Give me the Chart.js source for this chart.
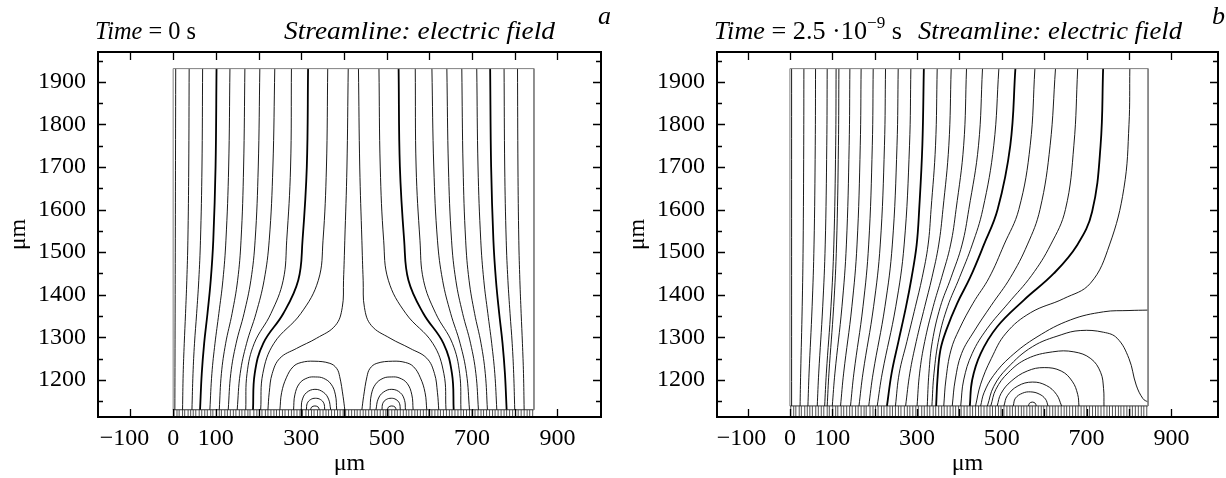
<!DOCTYPE html>
<html>
<head>
<meta charset="utf-8">
<script src="https://cdn.jsdelivr.net/npm/chart.js@4.4.1/dist/chart.umd.min.js"></script>
<style>
  html, body { margin: 0; padding: 0; background: #fff; }
  #wrap { position: relative; width: 1226px; height: 478px; }
  canvas { position: absolute; top: 0; }
  #chartA { left: 0; }
  #chartB { left: 613px; }
</style>
</head>
<body>
<div id="wrap">
  <canvas id="chartA" width="613" height="478"></canvas>
  <canvas id="chartB" width="613" height="478"></canvas>
</div>
<script>
// axis ticks
const xTicks = [-100, 0, 100, 200, 300, 400, 500, 600, 700, 800, 900];
const xLabeled = [-100, 0, 100, 300, 500, 700, 900];
const yTicks = [1150, 1200, 1250, 1300, 1350, 1400, 1450, 1500, 1550, 1600, 1650, 1700, 1750, 1800, 1850, 1900, 1950];
const yLabeled = [1200, 1300, 1400, 1500, 1600, 1700, 1800, 1900];

// domain (um)
const domainRight = 845;
const domainTop = 1931;
const bandTopA = 1130;
const bandTopB = 1139;

// mesh marks along the bottom electrode
const meshX = [2, 9, 14, 22, 27, 35, 41, 47, 53, 61, 67, 74, 80, 88, 93, 101, 108, 113, 121, 127, 134, 141, 147, 155, 161, 168, 175, 180, 189, 196, 202, 208, 216, 222, 229, 236, 242, 249, 256, 262, 270, 277, 283, 290, 297, 303, 311, 317, 324, 330, 338, 344, 351, 358, 364, 371, 378, 385, 391, 398, 404, 411, 418, 425, 431, 438, 445, 451, 458, 465, 472, 478, 485, 492, 498, 505, 512, 519, 525, 532, 539, 546, 552, 559, 566, 572, 579, 586, 593, 599, 606, 613, 620, 626, 633, 640, 647, 653, 660, 667, 674, 680, 687, 694, 700, 707, 714, 721, 727, 734, 741, 748, 754, 761, 768, 775, 781, 788, 795, 802, 808, 815, 822, 829, 835, 842];

// panel a, t = 0: streamlines from the top electrode, left to right
const linesA = [
    [[6, 1931], [5, 1500], [4, 1130]],
    [[37.5, 1931], [36.5, 1700], [34.5, 1528], [32, 1434], [29, 1356], [26, 1286], [23.5, 1215], [22, 1130]],
    [[69, 1931], [67.5, 1700], [64, 1528], [60, 1434], [55, 1356], [50, 1286], [46.5, 1215], [44, 1130]],
    [[101.6, 1931], [99.3, 1700], [94, 1528], [88, 1434], [80.4, 1356], [72.6, 1286], [67, 1215], [63, 1130]],
    [[133, 1931], [130, 1700], [123.6, 1528], [116.5, 1434], [107, 1356], [98, 1286], [90.7, 1215], [86, 1130]],
    [[168, 1931], [165, 1700], [159, 1528], [151, 1434], [138, 1356], [123, 1286], [113, 1215], [108, 1130]],
    [[203, 1931], [199.3, 1700], [192, 1528], [182, 1434], [166, 1356], [147.5, 1286], [135, 1215], [129, 1130]],
    [[238, 1931], [233.6, 1700], [225, 1528], [213, 1434], [194, 1356], [172, 1286], [157, 1215], [150, 1130]],
    [[277, 1931], [275, 1700], [266, 1528], [257.7, 1434], [229, 1356], [190, 1286], [173, 1215], [170, 1130]],
    [[316, 1931], [313, 1700], [303, 1528], [293, 1434], [258, 1356], [211, 1286], [191, 1215], [187, 1130]],
    [[362, 1931], [359, 1700], [351, 1528], [340, 1434], [299, 1356], [236, 1286], [210, 1215], [205, 1130]],
    [[410, 1931], [407, 1700], [402, 1528], [399, 1434], [396, 1370], [380, 1328], [336, 1298], [289, 1274], [250, 1251], [232, 1215], [225, 1170], [222, 1130]],
    [[434, 1931], [437, 1700], [442, 1528], [445, 1434], [448, 1370], [464, 1328], [508, 1298], [555, 1274], [594, 1251], [612, 1215], [619, 1170], [622, 1130]],
    [[482, 1931], [485, 1700], [493, 1528], [504, 1434], [545, 1356], [608, 1286], [634, 1215], [639, 1130]],
    [[528, 1931], [531, 1700], [541, 1528], [551, 1434], [586, 1356], [633, 1286], [653, 1215], [657, 1130]],
    [[567, 1931], [569, 1700], [578, 1528], [586.3, 1434], [615, 1356], [654, 1286], [671, 1215], [674, 1130]],
    [[606, 1931], [610.4, 1700], [619, 1528], [631, 1434], [650, 1356], [672, 1286], [687, 1215], [694, 1130]],
    [[641, 1931], [644.7, 1700], [652, 1528], [662, 1434], [678, 1356], [696.5, 1286], [709, 1215], [715, 1130]],
    [[676, 1931], [679, 1700], [685, 1528], [693, 1434], [706, 1356], [721, 1286], [731, 1215], [736, 1130]],
    [[711, 1931], [714, 1700], [720.4, 1528], [727.5, 1434], [737, 1356], [746, 1286], [753.3, 1215], [758, 1130]],
    [[742.4, 1931], [744.7, 1700], [750, 1528], [756, 1434], [763.6, 1356], [771.4, 1286], [777, 1215], [781, 1130]],
    [[775, 1931], [776.5, 1700], [780, 1528], [784, 1434], [789, 1356], [794, 1286], [797.5, 1215], [800, 1130]],
    [[806.5, 1931], [807.5, 1700], [809.5, 1528], [812, 1434], [815, 1356], [818, 1286], [820.5, 1215], [822, 1130]]
];
const thickA = [3, 9, 14, 20];

// panel a: closed loops over the two charges
const loopsA = [
    [[322, 1130], [324, 1136], [332, 1139], [340, 1136], [342, 1130]],
    [[312, 1130], [314, 1145], [322, 1154], [333, 1157], [345, 1154], [353, 1145], [355, 1130]],
    [[300, 1130], [302, 1152], [312, 1170], [332, 1178], [352, 1171], [364, 1155], [369, 1130]],
    [[282, 1130], [285, 1165], [296, 1192], [315, 1205], [333, 1207], [352, 1204], [370, 1190], [380, 1165], [383, 1130]],
    [[250, 1130], [254, 1170], [265, 1205], [281, 1231], [300, 1241], [330, 1244], [367, 1239], [383, 1227], [390, 1208], [398, 1161], [402, 1130]],
    [[502, 1130], [504, 1136], [512, 1139], [520, 1136], [522, 1130]],
    [[489, 1130], [491, 1145], [499, 1154], [511, 1157], [522, 1154], [530, 1145], [532, 1130]],
    [[475, 1130], [480, 1155], [492, 1171], [512, 1178], [532, 1170], [542, 1152], [544, 1130]],
    [[461, 1130], [464, 1165], [474, 1190], [492, 1204], [511, 1207], [529, 1205], [548, 1192], [559, 1165], [562, 1130]],
    [[442, 1130], [446, 1161], [454, 1208], [461, 1227], [477, 1239], [514, 1244], [544, 1241], [563, 1231], [579, 1205], [590, 1170], [594, 1130]]
];

// panel b, t = 2.5e-9 s: streamlines from the top electrode, left to right
const linesB = [
    [[4, 1931], [4, 1139]],
    [[33, 1931], [32.6, 1751], [31.2, 1517], [29, 1372], [25.4, 1216], [24, 1139]],
    [[60.5, 1931], [59.8, 1751], [56.9, 1517], [52.4, 1372], [45.2, 1216], [42.5, 1139]],
    [[88, 1931], [87, 1751], [83.3, 1517], [77.4, 1372], [68, 1216], [64.5, 1139]],
    [[109, 1931], [108, 1751], [103.6, 1517], [96.9, 1372], [86, 1216], [82, 1139]],
    [[115.6, 1931], [114.5, 1751], [110, 1517], [103.2, 1372], [92.1, 1216], [88, 1139]],
    [[141.5, 1931], [139.8, 1751], [133.2, 1517], [122.8, 1372], [106.2, 1216], [100, 1139]],
    [[168, 1931], [166, 1751], [158.3, 1517], [146.2, 1372], [126.8, 1216], [119.5, 1139]],
    [[196.5, 1931], [194.4, 1751], [185.8, 1517], [172.4, 1372], [151, 1216], [143, 1139]],
    [[225.6, 1931], [223.1, 1751], [213.1, 1517], [197.4, 1372], [172.4, 1216], [163, 1139]],
    [[255.5, 1931], [252.7, 1751], [241.6, 1517], [224.2, 1372], [196.4, 1216], [186, 1139]],
    [[285.4, 1931], [282.2, 1751], [269.5, 1517], [249.7, 1372], [217.9, 1216], [206, 1139]],
    [[316, 1931], [312.5, 1751], [305, 1600], [299, 1517], [287, 1440], [274, 1372], [256, 1290], [240, 1216], [229, 1139]],
    [[347.5, 1931], [343.6, 1751], [333, 1600], [326, 1517], [312, 1440], [296, 1372], [276, 1290], [258, 1216], [249, 1139]],
    [[380.5, 1931], [375, 1751], [361, 1600], [351, 1517], [335, 1440], [318, 1372], [298, 1290], [283, 1216], [273, 1139]],
    [[416.7, 1931], [410, 1751], [392, 1600], [379, 1517], [358, 1440], [338, 1372], [318, 1290], [306, 1216], [300, 1139]],
    [[454.4, 1931], [445, 1751], [422, 1600], [406, 1517], [380, 1440], [355, 1372], [336, 1290], [328, 1216], [324, 1139]],
    [[493, 1931], [481, 1751], [455, 1600], [430, 1517], [400, 1440], [372, 1372], [352, 1300], [340, 1216], [335, 1139]],
    [[532, 1931], [520, 1751], [490, 1600], [457.5, 1517], [425, 1440], [394.7, 1380], [370, 1320], [355, 1270], [348, 1200], [345, 1139]],
    [[578, 1931], [567, 1751], [540, 1600], [505, 1517], [470, 1440], [432, 1380], [400, 1320], [380, 1270], [368, 1200], [363, 1139]],
    [[626.6, 1931], [614, 1751], [590, 1600], [560, 1517], [520, 1440], [475, 1375], [435, 1315], [405, 1262], [390, 1200], [383, 1139]],
    [[679, 1931], [670, 1751], [650, 1600], [615, 1517], [570, 1445], [515, 1380], [465, 1320], [430, 1262], [410, 1200], [403, 1139]],
    [[739, 1931], [733, 1751], [713, 1595], [678, 1517], [622.6, 1450], [552, 1387.5], [489, 1325], [450, 1262], [430, 1200], [424.5, 1139]],
    [[802, 1931], [800, 1800], [788, 1650], [754, 1517], [709, 1427], [646, 1391], [568, 1358], [510, 1310], [475, 1250], [450, 1190], [438, 1139]],
    [[845, 1364], [800, 1363], [740, 1360], [662, 1341], [583, 1301], [520, 1254], [480, 1210], [458, 1170], [450, 1139]]
];
const thickB = [12, 18, 22];

// panel b: loops around the remaining charge, outermost first
const loopsB = [
    [[466, 1139], [481, 1185], [513, 1228], [572, 1278], [640, 1306], [685, 1316], [740, 1312], [772, 1298], [800, 1250], [817, 1188], [833, 1156], [845, 1148]],
    [[474, 1139], [486, 1178], [515, 1217], [560, 1250], [620, 1266], [670, 1266], [710, 1250], [733, 1218], [740, 1180], [741, 1139]],
    [[489, 1139], [498, 1168], [522, 1197], [560, 1221], [600, 1229], [640, 1221], [666, 1197], [679, 1166], [682, 1139]],
    [[505, 1139], [513, 1163], [538, 1186], [572, 1195], [605, 1187], [629, 1166], [641, 1139]],
    [[527, 1139], [532, 1157], [549, 1169], [568, 1172], [588, 1167], [603, 1155], [609, 1139]],
    [[563, 1139], [565, 1145], [572, 1148], [579, 1145], [581, 1139]]
];

const serif = '"Liberation Serif", "Times New Roman", serif';

function toXY(pts) {
    return pts.map(([x, y]) => ({ x, y }));
}

function lineSet(pts, width, color) {
    return {
        data: toXY(pts),
        showLine: true,
        borderColor: color || '#000',
        borderWidth: width,
        pointRadius: 0,
        tension: 0.4,
        fill: false
    };
}

function buildDatasets(lines, thick, loops, bandTop, meshRadius) {
    const sets = [];
    const box = lineSet([[0, bandTop], [0, domainTop], [domainRight, domainTop], [domainRight, bandTop]], 1, '#808080');
    box.tension = 0;
    sets.push(box);
    lines.forEach((pts, i) => sets.push(lineSet(pts, thick.includes(i) ? 1.8 : 0.9)));
    loops.forEach(pts => sets.push(lineSet(pts, 0.9)));
    const band = lineSet([[0, bandTop], [domainRight, bandTop]], 1, '#333');
    band.tension = 0;
    sets.push(band);
    sets.push({
        data: meshX.map(x => ({ x, y: (bandTop + 1113) / 2 })),
        showLine: false,
        pointStyle: 'line',
        rotation: 90,
        pointRadius: meshRadius,
        borderColor: '#555',
        borderWidth: 1
    });
    return sets;
}

// draws a run of text pieces squeezed or stretched to span [x0, x1]
function fitText(ctx, parts, x0, x1, baseline) {
    let w = 0;
    parts.forEach(p => { ctx.font = p.font; w += ctx.measureText(p.text).width; });
    ctx.save();
    ctx.translate(x0, baseline);
    ctx.scale((x1 - x0) / w, 1);
    let cx = 0;
    parts.forEach(p => {
        ctx.font = p.font;
        ctx.fillText(p.text, cx, p.dy || 0);
        cx += ctx.measureText(p.text).width;
    });
    ctx.restore();
}

const framePlugin = {
    id: 'frame',
    afterDraw(chart, args, opts) {
        const { ctx, chartArea: a, scales: { x, y } } = chart;
        ctx.save();
        ctx.strokeStyle = '#000';
        ctx.lineWidth = 1.3;
        ctx.beginPath();
        xTicks.forEach(v => {
            const px = Math.round(x.getPixelForValue(v)) + 0.5;
            ctx.moveTo(px, a.bottom); ctx.lineTo(px, a.bottom - 8);
            ctx.moveTo(px, a.top); ctx.lineTo(px, a.top + 8);
        });
        yTicks.forEach(v => {
            const py = Math.round(y.getPixelForValue(v)) + 0.5;
            const len = yLabeled.includes(v) ? 8 : 5;
            ctx.moveTo(a.left, py); ctx.lineTo(a.left + len, py);
            ctx.moveTo(a.right, py); ctx.lineTo(a.right - len, py);
        });
        ctx.stroke();
        ctx.lineWidth = 2;
        ctx.strokeRect(a.left, a.top, a.width, a.height);

        ctx.fillStyle = '#000';
        ctx.textBaseline = 'alphabetic';
        ctx.textAlign = 'left';
        fitText(ctx, opts.time, opts.timeSpan[0], opts.timeSpan[1], opts.baseline);
        fitText(ctx, [{ text: 'Streamline: electric field', font: `italic 26px ${serif}` }],
            opts.streamSpan[0], opts.streamSpan[1], opts.baseline);
        ctx.font = `italic 26px ${serif}`;
        ctx.fillText(opts.letter, opts.letterX, 24);
        ctx.restore();
    }
};

// negative labels keep their digits centred on the tick, the minus hangs left
function xLabel(v) {
    if (!xLabeled.includes(v)) return '';
    return v < 0 ? '\u2212' + Math.abs(v) + '\u2002' : String(v);
}

function makeChart(id, datasets, xMin, xMax, yAxisWidth, rightPad, yTitlePad, frameOpts) {
    return new Chart(document.getElementById(id), {
        type: 'scatter',
        data: { datasets },
        options: {
            responsive: false,
            animation: false,
            events: [],
            layout: { padding: { top: 52, right: rightPad, left: 0, bottom: 0 } },
            plugins: {
                legend: { display: false },
                tooltip: { enabled: false },
                frame: frameOpts
            },
            scales: {
                x: {
                    type: 'linear',
                    min: xMin,
                    max: xMax,
                    afterBuildTicks: s => { s.ticks = xTicks.map(v => ({ value: v })); },
                    afterFit: s => { s.height = 61; },
                    grid: { display: false, drawTicks: false },
                    border: { display: false },
                    ticks: {
                        padding: 7,
                        color: '#000',
                        font: { family: serif, size: 24 },
                        maxRotation: 0,
                        autoSkip: false,
                        callback: xLabel
                    },
                    title: { display: true, text: 'μm', color: '#000', font: { family: serif, size: 24 }, padding: { top: 0, bottom: 0 } }
                },
                y: {
                    type: 'linear',
                    min: 1113,
                    max: 1970,
                    afterBuildTicks: s => { s.ticks = yTicks.map(v => ({ value: v })); },
                    afterFit: s => { s.width = yAxisWidth; },
                    grid: { display: false, drawTicks: false },
                    border: { display: false },
                    ticks: {
                        padding: 12,
                        color: '#000',
                        font: { family: serif, size: 24 },
                        autoSkip: false,
                        callback: v => yLabeled.includes(v) ? String(v) : ''
                    },
                    title: { display: true, text: 'μm', color: '#000', font: { family: serif, size: 24 }, padding: { top: yTitlePad, bottom: 0 } }
                }
            }
        },
        plugins: [framePlugin]
    });
}

makeChart('chartA', buildDatasets(linesA, thickA, loopsA, bandTopA, 3.5), -176, 1002, 98, 12, 4, {
    time: [
        { text: 'Time', font: `italic 26px ${serif}` },
        { text: ' = 0 s', font: `26px ${serif}` }
    ],
    timeSpan: [95, 196],
    streamSpan: [284, 555],
    letter: 'a',
    letterX: 598,
    baseline: 39
});

makeChart('chartB', buildDatasets(linesB, thickB, loopsB, bandTopB, 5.5), -172, 1010, 104, 8, 10, {
    time: [
        { text: 'Time', font: `italic 26px ${serif}` },
        { text: ' = 2.5 \u00b710', font: `26px ${serif}` },
        { text: '\u22129', font: `17px ${serif}`, dy: -11 },
        { text: ' s', font: `26px ${serif}` }
    ],
    timeSpan: [101, 289],
    streamSpan: [305, 569],
    letter: 'b',
    letterX: 599,
    baseline: 39
});
</script>
</body>
</html>
